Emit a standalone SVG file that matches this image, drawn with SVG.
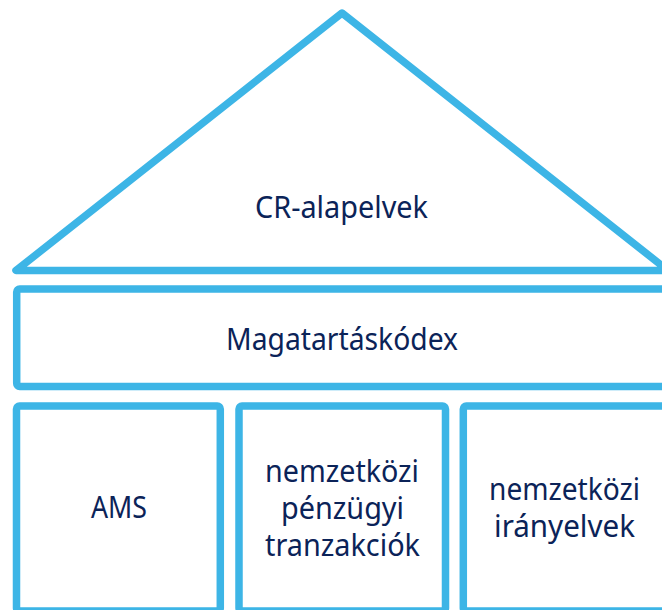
<svg xmlns="http://www.w3.org/2000/svg" width="662" height="610" viewBox="0 0 662 610">
<style>
.s{fill:none;stroke:#3db5e6;stroke-width:7.5;stroke-linejoin:round}
.t{font-family:"Noto Sans","Open Sans",sans-serif;font-size:30px;fill:#0b2358;text-anchor:middle}
</style>
<rect width="662" height="610" fill="#fff"/>
<g id="roof">
<polygon class="s" points="342,13 16,270.5 668,270.5"/>
<text class="t" x="341.5" y="218" textLength="173" lengthAdjust="spacingAndGlyphs">CR-alapelvek</text>
</g>
<g id="code">
<rect class="s" x="16.7" y="289" width="652" height="97.5" rx="3"/>
<text class="t" x="342" y="350" textLength="232" lengthAdjust="spacingAndGlyphs">Magatartáskódex</text>
</g>
<g id="ams">
<rect class="s" x="16.5" y="406" width="203.8" height="205" rx="3"/>
<text class="t" x="119" y="518" textLength="56" lengthAdjust="spacingAndGlyphs">AMS</text>
</g>
<g id="finance">
<rect class="s" x="239" y="406" width="206.5" height="205" rx="3"/>
<text class="t" x="342" y="482" textLength="154" lengthAdjust="spacingAndGlyphs">nemzetközi</text>
<text class="t" x="342.5" y="519" textLength="123" lengthAdjust="spacingAndGlyphs">pénzügyi</text>
<text class="t" x="342.5" y="556" textLength="155" lengthAdjust="spacingAndGlyphs">tranzakciók</text>
</g>
<g id="guidelines">
<rect class="s" x="463.3" y="406" width="206" height="205" rx="3"/>
<text class="t" x="564.5" y="500" textLength="151" lengthAdjust="spacingAndGlyphs">nemzetközi</text>
<text class="t" x="564.5" y="537" textLength="141" lengthAdjust="spacingAndGlyphs">irányelvek</text>
</g>
<g id="connectors"></g>
</svg>
